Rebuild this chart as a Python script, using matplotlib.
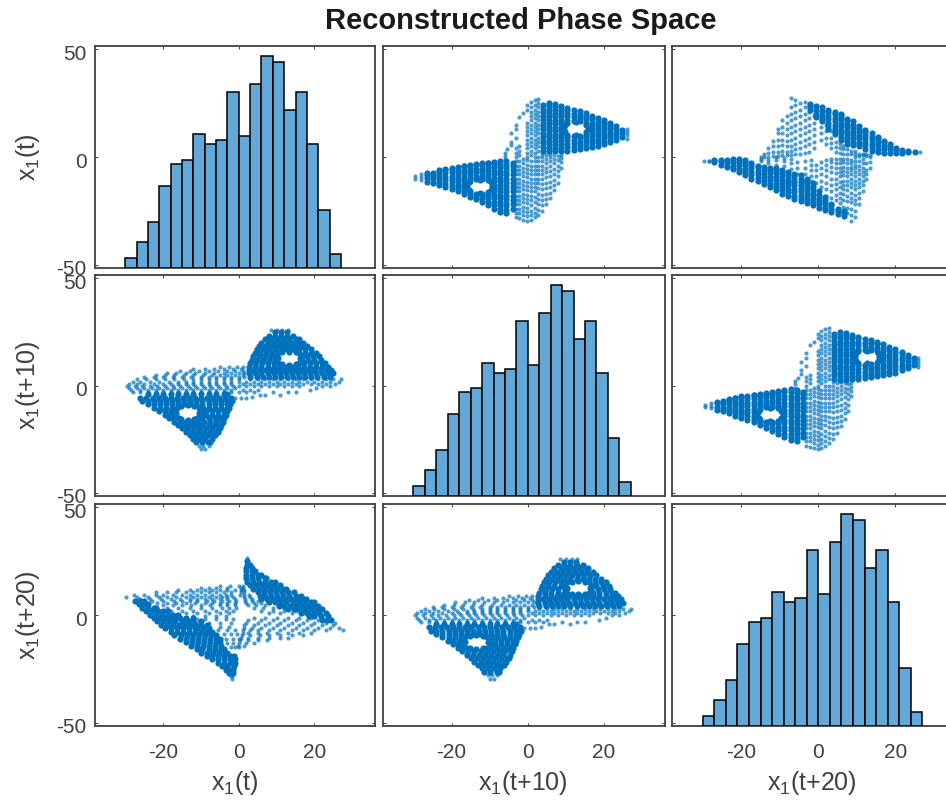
import numpy as np
import matplotlib
matplotlib.use("Agg")
import matplotlib.pyplot as plt
from matplotlib.transforms import ScaledTranslation

plt.rcParams['font.family'] = ['Liberation Sans', 'DejaVu Sans']
plt.rcParams['mathtext.default'] = 'regular'
plt.rcParams['axes.unicode_minus'] = False

title = "Reconstructed Phase Space"
names = ["x$_1$(t)", "x$_1$(t+10)", "x$_1$(t+20)"]
x_ticks = [-20, 0, 20]
y_ticks = [-50, 0, 50]

hist_lefts = [-30, -27, -24, -21, -18, -15, -12, -9, -6, -3, 0, 3, 6, 9, 12, 15, 18, 21, 24]
hist_counts = [5, 13, 23, 41, 52, 54, 67, 62, 64, 88, 66, 92, 106, 103, 79, 88, 62, 29, 7]

# values, one row per y level: (y, [x, x, ...])
# panel x(t) against x(t+10), dense lobes
lobes_10 = [
    (24.8, [9.5,11.1,12.7]),
    (23.2, [8,9.6,11.2,12.8,14.4]),
    (21.6, [7,8.6,10.2,11.8,13.4,15,15.8]),
    (20, [6,7.6,9.2,10.8,12.4,14,15.6,17]),
    (18.4, [5.3,6.8,8.4,10,11.6,13.2,14.8,16.4,18]),
    (16.8, [4.8,6.4,8,9.6,11.2,12.8,14.4,16,17.6,19.2]),
    (15.8, [13.2]),
    (15.4, [11.5,15]),
    (15.2, [4.2,5.6,7.2,8.8,10.4,16,17.6,19.2,20.4]),
    (13.6, [3.8,5.4,7,8.6,9.8,16.6,18,19.6,21.2]),
    (12.6, [10.3,16.2]),
    (12, [3.4,4.8,6.4,8,9.7,16.7,18.4,20,21.6]),
    (10.4, [3,4.6,6.2,7.8,9.4,10.4,16,17.2,18.8,20.4,22,22.8]),
    (9.8, [11.5,15]),
    (9.6, [13.2]),
    (8.8, [2.8,4.4,6,7.6,9.2,10.8,12.4,14,15.6,17.2,18.8,20.4,22,23.6]),
    (7.2, [2.7,4,5.6,7.2,8.8,10.4,12,13.6,15.2,16.8,18.4,20,21.6,23.2,24.4]),
    (5.6, [2.7,4.4,6,7.6,9.2,10.8,12.4,14,15.6,17.2,18.8,20.4,22,23.6,25]),
    (4, [3,4.8,6.4,8,9.6,11.2,12.8,14.4,16,17.6,19.2,20.8,22.4,24]),
    (-4, [-24,-22,-20,-18,-16,-14,-12,-10,-8,-6,-4,-3]),
    (-5.6, [-26,-24.4,-22.8,-21.2,-19.6,-18,-16.4,-14.8,-13.2,-11.6,-10,-8.4,-6.8,-5.2,-3.6,-2]),
    (-7.2, [-25.5,-24,-22.4,-20.8,-19.2,-17.6,-16,-14.4,-12.8,-11.2,-9.6,-8,-6.4,-4.8,-3.2,-1.8]),
    (-8.8, [-24,-22.4,-20.8,-19.2,-17.6,-16,-14.4,-12.8,-11.2,-9.6,-8,-6.4,-4.8,-3.2,-2.2]),
    (-9.3, [-13.5]),
    (-9.7, [-15.2,-11.8]),
    (-10.4, [-22.4,-20.8,-19.2,-17.6,-16.4,-10.6,-9.4,-7.8,-6.2,-4.6,-3,-2.6]),
    (-12, [-21,-19.6,-18,-17,-10,-8.6,-7,-5.4,-3.8,-3]),
    (-12.6, [-16.5,-10.5]),
    (-13.6, [-19.6,-18.4,-17,-10,-8.6,-7,-5.4,-3.8,-3.4]),
    (-15.2, [-18.4,-17,-15.9,-11,-9.6,-8,-6.4,-5,-3.8]),
    (-15.5, [-15.2,-11.8]),
    (-15.9, [-13.5]),
    (-16.8, [-17.2,-15.6,-14,-12.4,-10.8,-9.2,-7.6,-6,-4.4,-4.2]),
    (-18.4, [-16,-14.4,-12.8,-11.2,-9.6,-8,-6.4,-4.8]),
    (-20, [-15,-13.4,-11.8,-10.2,-8.6,-7,-5.4,-5]),
    (-21.6, [-14,-12.4,-10.8,-9.2,-7.6,-6,-5.6]),
    (-23.2, [-13,-11.4,-9.8,-8.2,-6.6,-6.2]),
    (-24.8, [-12,-10.4,-8.8,-7.2]),
    (-26.4, [-11.4,-9.8,-8.2,-7.5]),
]
# outer rows of dots and sparse bands
bands_10 = [
    (26, [8.5,10,11.5,13]),
    (8.6, [-5,-2.5,-0.5,1]),
    (7.8, [-12,-9,-6.5,-4,-1.5,0.5]),
    (6.8, [-15.5,-13,-10.5,-8,-5.5,-3,-1,1]),
    (5.8, [-19,-16.5,-14,-11.5,-9,-6.5,-4,-2,0,1.5]),
    (4.8, [-22,-19.5,-17,-14.5,-12,-9.5,-7,-5,-3,-1,1]),
    (3.8, [-25,-22.5,-20,-17.5,-15,-12.5,-10,-8,-6,-4,-2,0,1.5]),
    (2.8, [-27,-24.5,-22,-19.5,-17,-14.5,-12,-10,-8,-6,-4,-2,0,3,5,7,9,11,13,15,17,19,21,23,25,27]),
    (1.8, [-28,-26,-23.5,-21,-18.5,-16,-14,-12,-10,-8,-6,-4,-2,0,2,4,6,8,10,12,14,16,18,20,22,24,26.5]),
    (0.8, [-29,-27,-25,-22.5,-20,-18,-16,-14,-12,-10,-8,-6,-4,-2,1,3,5,7,9,11,13,15,17,19,21,23,25.5]),
    (-0.2, [-29.5,-27.5,-25.5,-23.5,-21.5,-19.5,-17.5,-15.5,-13.5,-11.5,-9.5,-7.5,-5.5,-3.5,-1.5,0,2,4,6,8,10,12,14,16,22,24]),
    (-1.2, [-29,-27,-25,-23,-21,-19,-17,-15,-13,-11,-9,-7,-5,-3,-1,20.5]),
    (-2.2, [-28.5,-26,-24,-22,-20,-18,-16,-14,-12,-10,-8,-6,-4,-2,1,3,5,18.7]),
    (-3.2, [-28,-26,-24,-22,-20,-18,-16,-14,-12,-10,-8,-6,-4,-2,0,2,4,15,13,9]),
    (-4.4, [11,7,5.5]),
    (-5.4, [3.5]),
    (-6, [2,0.5,-1]),
    (-28, [-10.5,-9.4,-8]),
    (-29.5, [-10,-9]),
]

# panel x(t) against x(t+20)
lobes_20 = [
    (25, [2.3]),
    (23.4, [2.2,3]),
    (21.8, [2,3.4]),
    (20.2, [1.8,3.4,4.2]),
    (18.6, [2,3.6,5.2,6]),
    (17, [2,3.6,5.2,6.8,7.3]),
    (15.4, [2.2,3.8,5.4,7,8.6,9.5]),
    (13.8, [3,4.6,6.2,7.8,9.4,11]),
    (12.2, [3.8,5.4,7,8.6,10.2,11.8,12.5]),
    (10.6, [5,6.6,8.2,9.8,11.4,13,14.5]),
    (9, [5.5,7,8.6,10.2,11.8,13.4,15,16.5]),
    (7.4, [6,7.5,9,10.6,12.2,13.8,15.4,17,17.8]),
    (5.8, [8,9.5,11,12.6,14.2,15.8,17.4,19,19.8]),
    (4.2, [10.5,12,13.5,15,16.6,18.2,19.8,21]),
    (2.6, [13,14.5,16,17.6,19.2,20.8,22]),
    (1, [16.5,18,19.6,21.2,23]),
    (-0.6, [18.5,20,21.6,23.5]),
    (-2.2, [22,23.4,24.5]),
    (6.6, [-27.5,-26,-25]),
    (5, [-26.5,-25,-24]),
    (3.4, [-25.5,-24,-22.4,-22]),
    (1.8, [-24.5,-23,-21.4,-20,-18.6]),
    (0.2, [-23.5,-22,-20.4,-18.8,-17.5,-16]),
    (-1.4, [-22.5,-21,-19.4,-17.8,-17,-15.5,-14,-12]),
    (-3, [-21.5,-20,-18.4,-16.8,-15,-13.5,-12,-10]),
    (-4.6, [-20.5,-19,-17.4,-15.8,-14.2,-13,-11.5,-10,-8.5]),
    (-6.2, [-19.5,-18,-16.4,-14.8,-13.2,-11.6,-11,-9.5,-8]),
    (-7.8, [-18,-16.4,-14.8,-13.2,-11.6,-10,-8.4,-7]),
    (-9.4, [-17,-15.4,-13.8,-12.2,-10.6,-9,-7.4,-6]),
    (-11, [-15.5,-14,-12.4,-10.8,-9.2,-7.6,-6,-5]),
    (-12.6, [-14,-12.4,-10.8,-9.2,-7.6,-6,-5]),
    (-14.2, [-12.5,-11,-9.4,-7.8,-6.2,-4.6]),
    (-15.8, [-11,-9.6,-8,-6.4,-4.8,-4]),
    (-17.4, [-10,-8.4,-6.8,-5.2,-3.6,-3]),
    (-19, [-8.5,-7,-5.4,-3.8,-2.2,-1.2]),
    (-20.6, [-7,-5.4,-3.8,-2.2,-1]),
    (-22.2, [-5.5,-4,-2.4,-1]),
    (-23.8, [-4.5,-3,-1.2]),
    (-25.4, [-3.5,-2,-1.4]),
    (-27, [-2.5,-1.6]),
]
bands_20 = [
    (26.4, [2.2]),
    (13.5, [-5,-2.4,0,1]),
    (12.5, [-10,-8,-6,-3,0.5,1.2]),
    (11.5, [-16,-13,-11,-9,-7,-5,-3,-1,0.7,1.3]),
    (10.5, [-22,-19,-16.5,-14,-12,-10,-8,-6,-4,-2,0.5,1.3]),
    (9.5, [-27.8,-25,-22,-20,-17.5,-15,-13,-11,-9,-7,-5,-3.5,-2,0.2,1.4,2.8]),
    (8.5, [-29.7,-27,-24,-21,-19,-16.5,-14,-12,-10,-8,-6,-4.5,-3,-1.5,1.5,3]),
    (7.5, [-26,-23.5,-20.5,-18,-15.5,-13,-11,-9,-7,-5,-3,-1,1.6,3.5]),
    (6.5, [-23,-20,-17,-15,-13,-11,-8.5,-6.5,-4.5,-2.5,-0.8,1.6,3.5,5]),
    (5.5, [-21.5,-19,-16.5,-14,-11.5,-9,-7,-5,-3,-1,2,4,6]),
    (4.5, [-20,-17.5,-15,-12.5,-10,-7.5,-5,-3,-1,2.4,4.5,7]),
    (3.2, [-19,-16,-13,-10,-7,-4.5,-2.5,-0.8,4,6.5,9,12]),
    (2, [-18,-15,-12,-9,-6,-3.5,-1.5,6,9,12,15]),
    (0.8, [-14,-11,-8,-5,-2.5,8,11,14,17]),
    (-0.5, [-12,-9,-6,-3.5]),
    (-1.2, [4,7,10,13,16,19]),
    (-2, [-11,-9,-6,-3.5,-1.5]),
    (-2.4, [2.5,6,9,12,15,18,21,24]),
    (-3.5, [-11,-8,-5,-2,2,5,8,11,14,17,20,23,25.5]),
    (-4.8, [1.5,4,7,10,13,16,19,22,25]),
    (-5.5, [-8,-5,-2.5]),
    (-6, [1.5,3.5,6,9,12,15,18,21,24,26.5]),
    (-7, [-5.5,-3,-1,1,3,5,8,11,14,17,20,23,27.5]),
    (-8.2, [1,2.5,5,7.5,10,13,16,19]),
    (-9, [-4,-2,-0.5]),
    (-9.4, [0.8,3,5.5,8,11,14,17]),
    (-10.5, [0.5,2.5,5,8,11,13]),
    (-11, [-3.5,-1.5,0]),
    (-11.8, [0.3,2.5,5,7.5]),
    (-13, [-3,-1.5,0,2,4]),
    (-14.2, [-0.2,1.5]),
    (-15, [-2,-1,0]),
    (-28.5, [-2,-1.8]),
    (-29.6, [-1.9]),
]

fig = plt.figure(figsize=(9.46, 8.01), dpi=100)
W, H = 946.0, 801.0
lefts = [95, 383, 672]
widths = [280, 282, 285]
tops = [46, 275, 504]
heights = [222, 221, 222]
blue = "#0072BD"
grey = "#404040"


def to_xy(rows):
    return np.array([[x, y] for y, xs in rows for x in xs])


def draw_points(ax, lobes, bands):
    ax.scatter(lobes[:, 0], lobes[:, 1], s=20, color=blue, linewidths=0)
    ax.scatter(bands[:, 0], bands[:, 1], s=9, color=blue, alpha=0.7, linewidths=0)


pts_10 = (to_xy(lobes_10), to_xy(bands_10))
pts_20 = (to_xy(lobes_20), to_xy(bands_20))

for r in range(3):
    for c in range(3):
        ax = fig.add_axes([lefts[c]/W, 1-(tops[r]+heights[r])/H, widths[c]/W, heights[r]/H])
        ax.set_xlim(-38, 36)
        ax.set_ylim(-51.5, 51.5)
        ax.set_xticks(x_ticks)
        ax.set_yticks(y_ticks)
        ax.tick_params(direction="in", length=2, width=0.7, top=True, right=True, color=grey,
                       labelcolor=grey, labelsize=15, labelleft=c == 0, labelbottom=r == 2)
        ax.tick_params(axis="x", pad=12)
        ax.tick_params(axis="y", pad=6)
        for s in ax.spines.values():
            s.set_linewidth(1.3)
            s.set_color(grey)
        # labels sit a little below their ticks in the original
        for lab in ax.get_yticklabels():
            lab.set_transform(lab.get_transform() + ScaledTranslation(0, -3/100, fig.dpi_scale_trans))

        if r == c:
            hax = ax.twinx()
            hax.set_ylim(0, 111)
            hax.set_yticks([])
            hax.bar(hist_lefts, hist_counts, width=3, align="edge",
                    color="#62A8D8", edgecolor="black", linewidth=1.1)
            for s in hax.spines.values():
                s.set_visible(False)
        else:
            pts = pts_10 if abs(r-c) == 1 else pts_20
            if r > c:
                draw_points(ax, pts[0], pts[1])
            else:
                draw_points(ax, pts[0][:, ::-1], pts[1][:, ::-1])

        if c == 0:
            fig.text(28/W, 1-(tops[r]+heights[r]/2)/H, names[r], rotation=90, ha="center", va="center",
                     fontsize=18, color=grey)
        if r == 2:
            fig.text((lefts[c]+140)/W, 1-783/H, names[c], ha="center", va="center", fontsize=18, color=grey)

fig.text(521/W, 1-21/H, title, ha="center", va="center", fontsize=21, fontweight="bold", color="#1a1a1a")

plt.savefig("out.png", dpi=100)
